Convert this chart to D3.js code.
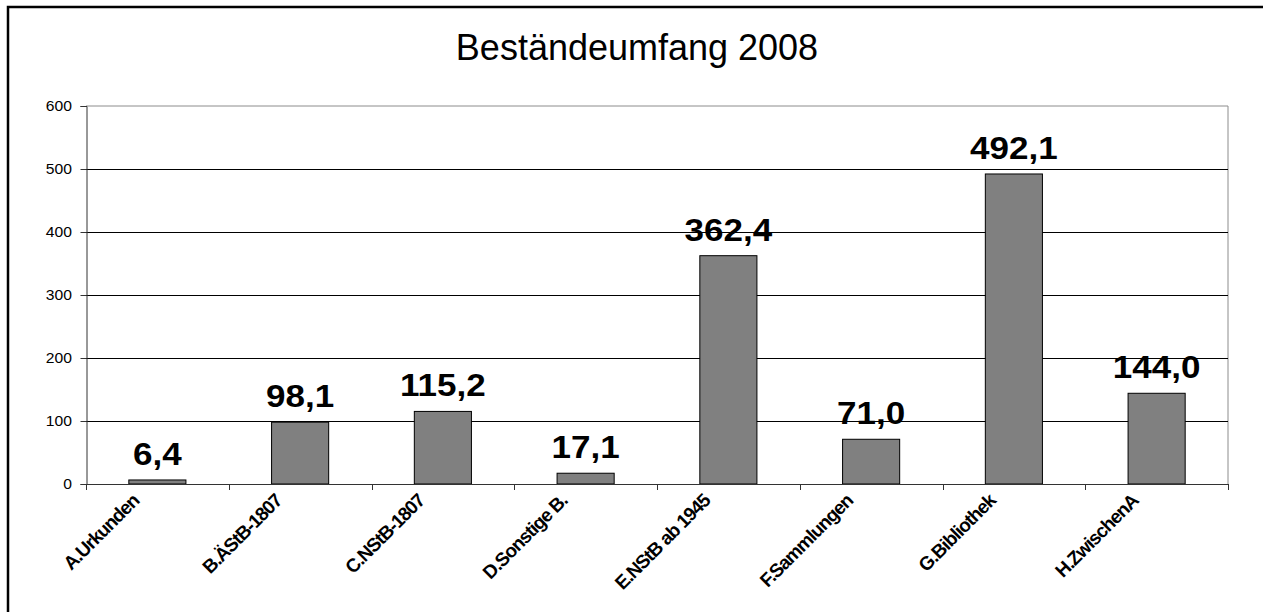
<!DOCTYPE html>
<html>
<head>
<meta charset="utf-8">
<script src="https://cdn.jsdelivr.net/npm/d3@7"></script>
<style>
  html, body { margin: 0; padding: 0; background: #fff; }
  svg { display: block; font-family: "Liberation Sans", Arial, sans-serif; }
</style>
</head>
<body>
<svg id="chart" width="1263" height="612"></svg>
<script>
// Bestände 2008 (Regalmeter) per Beständegruppe
const categories = ["A.Urkunden", "B.ÄStB-1807", "C.NStB-1807", "D.Sonstige B.",
                    "E.NStB ab 1945", "F.Sammlungen", "G.Bibliothek", "H.ZwischenA"];
const values = [6.4, 98.1, 115.2, 17.1, 362.4, 71.0, 492.1, 144.0];
const yTicks = [0, 100, 200, 300, 400, 500, 600];
const title = "Beständeumfang 2008";

const svg = d3.select("#chart");
const plot = { left: 86, right: 1228, top: 106, bottom: 484 };

// outer chart frame
svg.append("rect")
  .attr("x", 8).attr("y", 7)
  .attr("width", 1300).attr("height", 700)
  .attr("fill", "#fff").attr("stroke", "#000").attr("stroke-width", 2.5);

const x = d3.scaleBand()
  .domain(categories)
  .range([plot.left, plot.right])
  .paddingInner(0.6)
  .paddingOuter(0.3);

const y = d3.scaleLinear()
  .domain([0, 600])
  .range([plot.bottom, plot.top]);

// title
svg.append("text")
  .attr("x", 637).attr("y", 60)
  .attr("text-anchor", "middle")
  .attr("font-size", 36)
  .attr("fill", "#000")
  .text(title);

// plot-area border (top and right)
svg.append("path")
  .attr("d", `M${plot.left},${plot.top}H${plot.right}V${plot.bottom}`)
  .attr("fill", "none").attr("stroke", "#8c8c8c").attr("stroke-width", 1);

// horizontal gridlines
svg.append("g")
  .selectAll("line")
  .data(yTicks.filter(t => t > 0 && t < 600))
  .join("line")
  .attr("x1", plot.left).attr("x2", plot.right)
  .attr("y1", d => Math.round(y(d)) + 0.5).attr("y2", d => Math.round(y(d)) + 0.5)
  .attr("stroke", "#000").attr("stroke-width", 1);

// y axis
const yAxis = svg.append("g")
  .attr("transform", `translate(${plot.left + 0.5},0)`)
  .call(d3.axisLeft(y).tickValues(yTicks).tickSize(6).tickPadding(7).tickFormat(d3.format("d")));
yAxis.select(".domain").attr("stroke", "#333");
yAxis.selectAll(".tick line").attr("stroke", "#333");
yAxis.selectAll(".tick text")
  .attr("font-size", 14)
  .attr("font-family", "'Liberation Sans', Arial, sans-serif")
  .attr("fill", "#000")
  .attr("transform", "scale(1.12,1)");

// bars
svg.append("g")
  .selectAll("rect")
  .data(values)
  .join("rect")
  .attr("x", (d, i) => x(categories[i]))
  .attr("y", d => y(d))
  .attr("width", x.bandwidth())
  .attr("height", d => y(0) - y(d))
  .attr("fill", "#808080")
  .attr("stroke", "#000")
  .attr("stroke-width", 1);

// x axis with ticks at category boundaries
const bounds = d3.range(categories.length + 1).map(i => plot.left + i * x.step());
svg.append("line")
  .attr("x1", plot.left).attr("x2", plot.right)
  .attr("y1", plot.bottom + 0.5).attr("y2", plot.bottom + 0.5)
  .attr("stroke", "#333").attr("stroke-width", 1);
svg.append("g")
  .selectAll("line")
  .data(bounds)
  .join("line")
  .attr("x1", d => Math.round(d) + 0.5).attr("x2", d => Math.round(d) + 0.5)
  .attr("y1", plot.bottom).attr("y2", plot.bottom + 6)
  .attr("stroke", "#333").attr("stroke-width", 1);

// category labels, rotated
svg.append("g")
  .selectAll("text")
  .data(categories)
  .join("text")
  .attr("transform", d => `translate(${x(d) + x.bandwidth() / 2 - 17},${plot.bottom + 18}) rotate(-45)`)
  .attr("text-anchor", "end")
  .attr("font-size", 19)
  .attr("font-weight", "bold")
  .attr("letter-spacing", -1)
  .attr("fill", "#000")
  .text(d => d);

// value labels above bars
svg.append("g")
  .selectAll("text")
  .data(values)
  .join("text")
  .attr("transform", (d, i) => `translate(${x(categories[i]) + x.bandwidth() / 2},${y(d) - 15}) scale(1.13,1)`)
  .attr("text-anchor", "middle")
  .attr("font-size", 31)
  .attr("font-weight", "bold")
  .attr("fill", "#000")
  .text(d => d.toFixed(1).replace(".", ","));
</script>
</body>
</html>
